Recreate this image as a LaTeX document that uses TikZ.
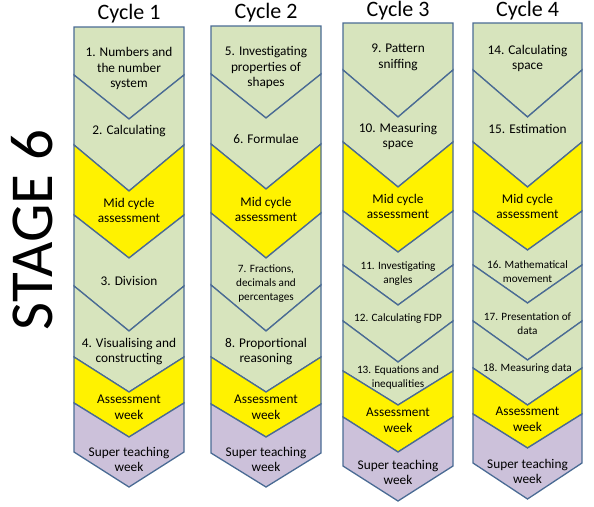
\documentclass[tikz,border=0pt]{standalone}
\usepackage{fontspec}
\setmainfont{Carlito}
\usepackage{xcolor}
\definecolor{sage}{HTML}{D7E4BD}
\definecolor{lilac}{HTML}{CCC1DA}
\definecolor{rim}{HTML}{4A6B94}
\usepackage{tikz}
\tikzset{
  band/.style={draw=rim, line width=1.3pt, line join=miter},
  topic/.style={align=center, font=\fontsize{13.3}{15.5}\selectfont, inner sep=0pt, yshift=-1.5pt},
  smalltopic/.style={align=center, font=\fontsize{11.2}{14}\selectfont, inner sep=0pt, yshift=-1.5pt},
  cyclehead/.style={font=\fontsize{22}{24}\selectfont, inner sep=0pt, yshift=-1pt},
}

\begin{document}
\begin{tikzpicture}[x=1pt, y=-1pt]
    \useasboundingbox (0,0) rectangle (594,506);

    % Stage label
    \node[rotate=90, font=\fontsize{61}{61}\selectfont, inner sep=0pt] (stage) at (32,230) {STAGE 6};

    % Cycle 1 column
    \foreach \ya/\pa/\yb/\pb/\shade in {27/27/75/119/sage, 75/119/145/191/sage, 145/191/215/258/yellow,
        215/258/286/331/sage, 286/331/357/392/sage, 357/392/403/437/yellow, 403/437/452/487/lilac}
        \filldraw[band, fill=\shade] (74,\ya) -- (129,\pa) -- (184,\ya) -- (184,\yb) -- (129,\pb) -- (74,\yb) -- cycle;

    % Cycle 2 column
    \foreach \ya/\pa/\yb/\pb/\shade in {26/26/74/118/sage, 74/118/144/189/sage, 144/189/213/258/yellow,
        213/258/285/331/sage, 285/331/357/392/sage, 357/392/404/437/yellow, 404/437/453/487/lilac}
        \filldraw[band, fill=\shade] (211,\ya) -- (266,\pa) -- (321,\ya) -- (321,\yb) -- (266,\pb) -- (211,\yb) -- cycle;

    % Cycle 3 column
    \foreach \ya/\pa/\yb/\pb/\shade in {23/23/70/117/sage, 70/117/142/187/sage, 142/187/211/252/yellow,
        211/252/265/305/sage, 265/305/321/362/sage, 321/362/371/405/sage, 371/405/417/452/yellow, 417/452/466/501/lilac}
        \filldraw[band, fill=\shade] (343,\ya) -- (398,\pa) -- (453,\ya) -- (453,\yb) -- (398,\pb) -- (343,\yb) -- cycle;

    % Cycle 4 column
    \foreach \ya/\pa/\yb/\pb/\shade in {23/23/70/117/sage, 70/117/142/187/sage, 142/187/211/250/yellow,
        211/250/265/303/sage, 265/303/321/360/sage, 321/360/368/405/sage, 368/405/414/448/yellow, 414/448/463/499/lilac}
        \filldraw[band, fill=\shade] (473,\ya) -- (527.5,\pa) -- (582,\ya) -- (582,\yb) -- (527.5,\pb) -- (473,\yb) -- cycle;

    % Headings
    \node[cyclehead] (head1) at (129,13) {Cycle 1};
    \node[cyclehead] (head2) at (266,12) {Cycle 2};
    \node[cyclehead] (head3) at (398,10) {Cycle 3};
    \node[cyclehead] (head4) at (527.5,10) {Cycle 4};

    % Cycle 1 topics
    \node[topic] (t1) at (129,67) {1. Numbers and\\the number\\system};
    \node[topic] (t2) at (129,130) {2. Calculating};
    \node[topic] (mid1) at (129,209) {Mid cycle\\assessment};
    \node[topic] (t3) at (129,279) {3. Division};
    \node[topic] (t4) at (129,350) {4. Visualising and\\constructing};
    \node[topic] (assess1) at (129,406) {Assessment\\week};
    \node[topic] (super1) at (129,458) {Super teaching\\week};

    % Cycle 2 topics
    \node[topic] (t5) at (266,66) {5. Investigating\\properties of\\shapes};
    \node[topic] (t6) at (266,137) {6. Formulae};
    \node[topic] (mid2) at (266,208) {Mid cycle\\assessment};
    \node[smalltopic] (t7) at (266,282) {7. Fractions,\\decimals and\\percentages};
    \node[topic] (t8) at (266,350) {8. Proportional\\reasoning};
    \node[topic] (assess2) at (266,406) {Assessment\\week};
    \node[topic] (super2) at (266,458) {Super teaching\\week};

    % Cycle 3 topics
    \node[topic] (t9) at (398,56) {9. Pattern\\sniffing};
    \node[topic] (t10) at (398,135) {10. Measuring\\space};
    \node[topic] (mid3) at (398,205) {Mid cycle\\assessment};
    \node[smalltopic] (t11) at (398,272) {11. Investigating\\angles};
    \node[smalltopic] (t12) at (398,317) {12. Calculating FDP};
    \node[smalltopic] (t13) at (398,376) {13. Equations and\\inequalities};
    \node[topic] (assess3) at (398,419) {Assessment\\week};
    \node[topic] (super3) at (398,471) {Super teaching\\week};

    % Cycle 4 topics
    \node[topic] (t14) at (527.5,57) {14. Calculating\\space};
    \node[topic] (t15) at (527.5,127) {15. Estimation};
    \node[topic] (mid4) at (527.5,205) {Mid cycle\\assessment};
    \node[smalltopic] (t16) at (527.5,270) {16. Mathematical\\movement};
    \node[smalltopic] (t17) at (527.5,322) {17. Presentation of\\data};
    \node[smalltopic] (t18) at (527.5,367) {18. Measuring data};
    \node[topic] (assess4) at (527.5,418) {Assessment\\week};
    \node[topic] (super4) at (527.5,470) {Super teaching\\week};
\end{tikzpicture}
\end{document}
